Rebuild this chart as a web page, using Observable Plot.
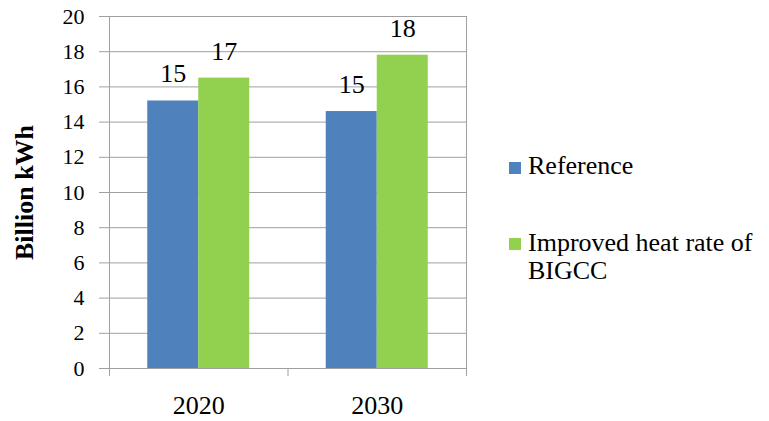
<!DOCTYPE html>
<html>
<head>
<meta charset="utf-8">
<script src="https://cdn.jsdelivr.net/npm/d3@7"></script>
<script src="https://cdn.jsdelivr.net/npm/@observablehq/plot@0.6"></script>
<style>
  html, body { margin: 0; padding: 0; background: #fff; }
  #wrap { position: relative; width: 769px; height: 421px; overflow: hidden; font-family: 'Liberation Serif', 'Tinos', 'Times New Roman', 'DejaVu Serif', serif; }
  #wrap svg, #wrap svg text { font-family: 'Liberation Serif', 'Tinos', 'Times New Roman', 'DejaVu Serif', serif !important; }
  .legend-item { position: absolute; left: 509px; width: 258px; font-size: 26px; line-height: 28px; color: #000; }
  .legend-item .sw { position: absolute; left: 0; width: 12px; height: 12px; }
  .legend-item .lab { margin-left: 19px; display: block; }
</style>
</head>
<body>
<div id="wrap"></div>
<script>
// ---- data ----
const years = ["2020", "2030"];
const series = ["Reference", "Improved heat rate of BIGCC"];
const referenceValues = [15.2, 14.6];
const improvedValues = [16.5, 17.8];
const yTicks = [0, 2, 4, 6, 8, 10, 12, 14, 16, 18, 20];
const colors = ["#4F81BD", "#92D050"];
const yLabel = "Billion kWh";

// ---- table ----
const data = years.flatMap((yr, i) => [
  {year: yr, series: series[0], value: referenceValues[i]},
  {year: yr, series: series[1], value: improvedValues[i]}
]);

// ---- layout ----
const W = 769, H = 421;
const mL = 109, mR = 303, mT = 16, mB = 53;
const step = (W - mL - mR) / years.length;
const groupW = 102;
const outer = (step - groupW) / 2;
const half = groupW / 2;
const gray = "#a0a0a0";
const fmt = d3.format(".0f");

const chart = Plot.plot({
  width: W,
  height: H,
  marginLeft: mL,
  marginRight: mR,
  marginTop: mT,
  marginBottom: mB,
  style: {color: "#000", background: "#fff"},
  x: {type: "band", domain: years, padding: 0, round: false, label: null},
  y: {domain: [0, 20], label: null},
  color: {domain: series, range: colors},
  marks: [
    Plot.ruleY(yTicks, {stroke: gray, strokeWidth: 1}),
    Plot.barY(data.filter(d => d.series === series[0]), {x: "year", y: "value", fill: "series", insetLeft: outer, insetRight: outer + half}),
    Plot.barY(data.filter(d => d.series === series[1]), {x: "year", y: "value", fill: "series", insetLeft: outer + half, insetRight: outer}),
    Plot.frame({stroke: gray}),
    Plot.axisY({ticks: yTicks, tickSize: 10, tickPadding: 15, fontSize: 22, stroke: gray, fill: "#000", label: null}),
    Plot.axisX({ticks: years, tickSize: 0, tickPadding: 27, fontSize: 26, fill: "#000", label: null}),
    Plot.axisX({ticks: years, tickSize: 8, text: null, dx: -step / 2, stroke: gray, label: null}),
    Plot.axisX({ticks: [years[years.length - 1]], tickSize: 8, text: null, dx: step / 2, stroke: gray, label: null}),
    Plot.text(data.filter(d => d.series === series[0]), {x: "year", y: "value", text: d => fmt(d.value), dx: -half / 2, dy: -18.5, lineAnchor: "bottom", fontSize: 26, fill: "#000"}),
    Plot.text(data.filter(d => d.series === series[1]), {x: "year", y: "value", text: d => fmt(d.value), dx: half / 2, dy: -18.5, lineAnchor: "bottom", fontSize: 26, fill: "#000"}),
    Plot.text([yLabel], {frameAnchor: "left", text: d => d, rotate: -90, dx: -85, fontSize: 26, fontWeight: "bold", fill: "#000", lineAnchor: "middle", textAnchor: "middle"})
  ]
});

const wrap = document.getElementById("wrap");
wrap.appendChild(chart);

// ---- legend (HTML, to the right of the plot) ----
const legendTops = [152, 229];
const swatchTops = [10, 9];
series.forEach((s, i) => {
  const item = document.createElement("div");
  item.className = "legend-item";
  item.style.top = legendTops[i] + "px";
  const sw = document.createElement("span");
  sw.className = "sw";
  sw.style.background = colors[i];
  sw.style.top = swatchTops[i] + "px";
  const lab = document.createElement("span");
  lab.className = "lab";
  lab.textContent = s;
  item.appendChild(sw);
  item.appendChild(lab);
  wrap.appendChild(item);
});
</script>
</body>
</html>
